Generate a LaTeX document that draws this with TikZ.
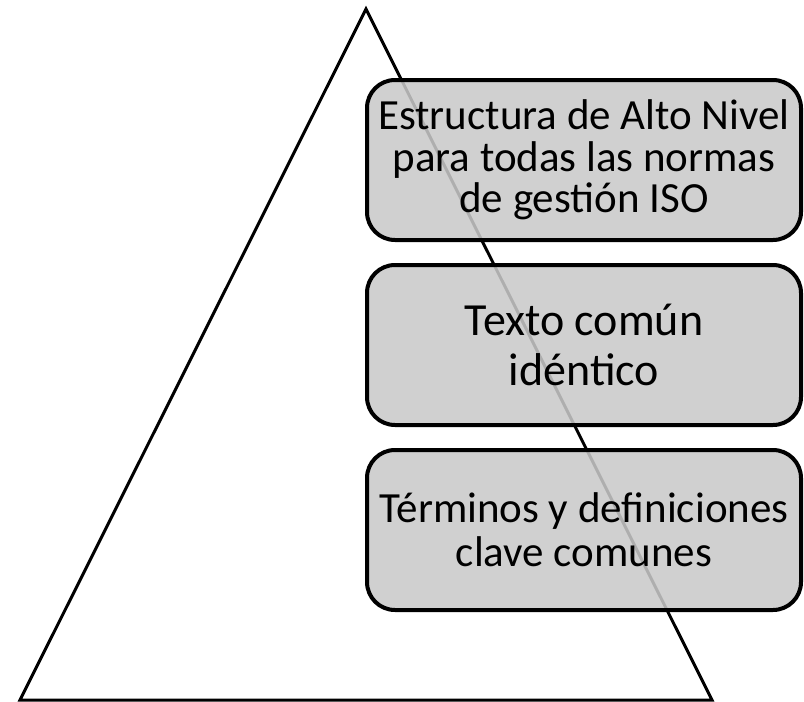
\documentclass[tikz,border=0pt]{standalone}
\usepackage{fontspec}
\setmainfont{Carlito}
\usepackage{tikz}
\usetikzlibrary{positioning}

\begin{document}
\begin{tikzpicture}[x=1pt, y=-1pt,
  capa/.style={draw=black, line width=4pt, rounded corners=28pt,
    fill=black!21, fill opacity=0.87, text opacity=1,
    minimum width=434pt, minimum height=160pt, align=center, inner sep=0pt}]
%
\path[use as bounding box] (0,0) rectangle (804,702);
%
\coordinate (cima) at (366,9);
\coordinate (izq) at (20,700);
\coordinate (der) at (712,700);
\draw[line width=3pt] (izq) -- (cima) -- (der) -- cycle;
%
\node[capa, font=\fontsize{43}{41.5}\selectfont] (alto) at (584,160)
  {Estructura de Alto Nivel\\para todas las normas\\de gestión ISO};
\node[capa, font=\fontsize{46}{50}\selectfont, below=21pt of alto] (texto)
  {Texto común\\idéntico};
\node[capa, font=\fontsize{43}{44}\selectfont, below=21pt of texto] (terminos)
  {Términos y definiciones\\clave comunes};
%
\end{tikzpicture}
\end{document}
